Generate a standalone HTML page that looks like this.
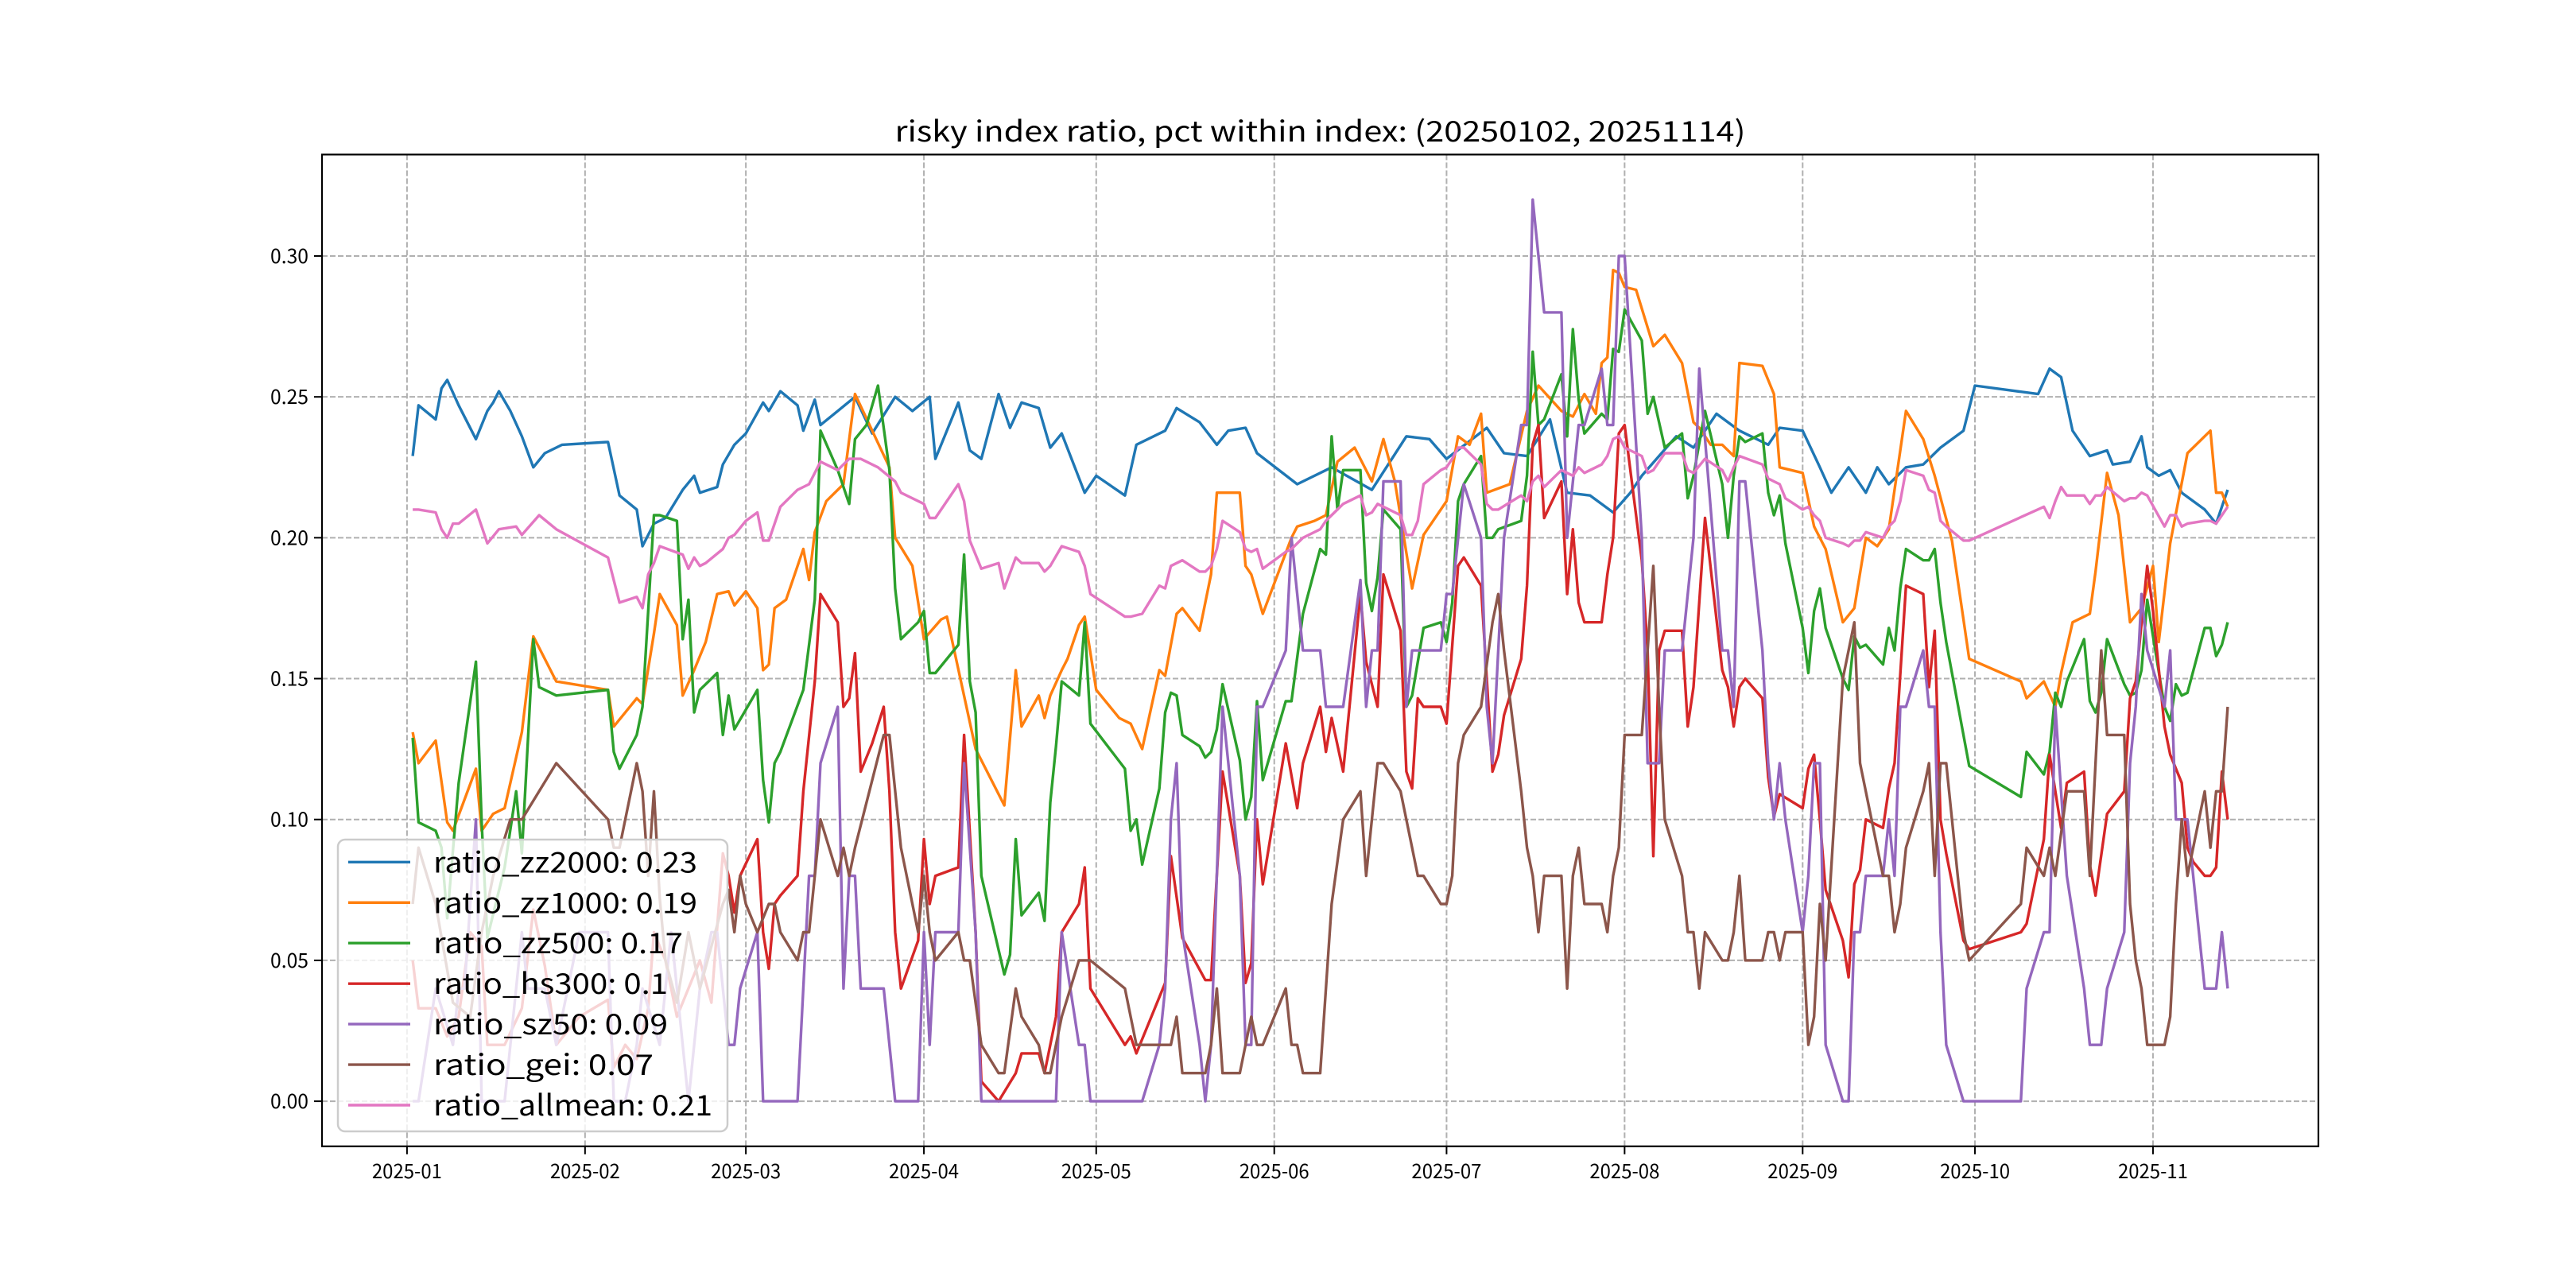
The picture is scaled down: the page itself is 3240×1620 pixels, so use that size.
<!DOCTYPE html>
<html><head><meta charset="utf-8"><style>html,body{margin:0;padding:0;background:#fff}svg{display:block}</style></head>
<body>
<svg id="chart" xmlns="http://www.w3.org/2000/svg" width="3240" height="1620" viewBox="0 0 3240 1620"></svg>
<script>
const monthLabels=["2025-01","2025-02","2025-03","2025-04","2025-05","2025-06","2025-07","2025-08","2025-09","2025-10","2025-11"];
const monthDays=[0,31,59,90,120,151,181,212,243,273,304];
const yTicks=[0,0.05,0.10,0.15,0.20,0.25,0.30];
const yTickLabels=["0.00","0.05","0.10","0.15","0.20","0.25","0.30"];
const seriesNames=["ratio_zz2000: 0.23","ratio_zz1000: 0.19","ratio_zz500: 0.17","ratio_hs300: 0.1","ratio_sz50: 0.09","ratio_gei: 0.07","ratio_allmean: 0.21"];
const zz2000=[[1,.229],[2,.247],[5,.242],[6,.253],[7,.256],[9,.247],[12,.235],[14,.245],[15,.248],[16,.252],[18,.245],[20,.236],[22,.225],[24,.23],[27,.233],[35,.234],[37,.215],[40,.21],[41,.197],[43,.205],[45,.207],[48,.217],[50,.222],[51,.216],[54,.218],[55,.226],[57,.233],[59,.237],[62,.248],[63,.245],[65,.252],[68,.247],[69,.238],[71,.249],[72,.24],[75,.245],[78,.25],[81,.237],[85,.25],[88,.245],[91,.25],[92,.228],[96,.248],[98,.231],[100,.228],[103,.251],[105,.239],[107,.248],[110,.246],[112,.232],[114,.237],[118,.216],[120,.222],[125,.215],[127,.233],[132,.238],[134,.246],[138,.241],[141,.233],[143,.238],[146,.239],[148,.23],[155,.219],[161,.225],[168,.217],[174,.236],[178,.235],[181,.228],[188,.239],[191,.23],[195,.229],[199,.242],[202,.216],[206,.215],[210,.209],[213,.216],[215,.222],[221,.236],[224,.232],[228,.244],[232,.238],[237,.233],[239,.239],[243,.238],[246,.225],[248,.216],[251,.225],[254,.216],[256,.225],[258,.219],[261,.225],[264,.226],[267,.232],[271,.238],[273,.254],[284,.251],[286,.26],[288,.257],[290,.238],[293,.229],[296,.231],[297,.226],[300,.227],[302,.236],[303,.225],[305,.222],[307,.224],[309,.216],[313,.21],[315,.205],[316,.211],[317,.217]];
const zz1000=[[1,.131],[2,.12],[5,.128],[7,.099],[8,.096],[12,.118],[13,.096],[15,.102],[17,.104],[20,.131],[22,.165],[26,.149],[35,.146],[36,.133],[40,.143],[41,.141],[43,.166],[44,.18],[47,.169],[48,.144],[50,.153],[52,.163],[54,.18],[56,.181],[57,.176],[59,.181],[61,.175],[62,.153],[63,.155],[64,.175],[66,.178],[69,.196],[70,.185],[71,.202],[73,.213],[76,.219],[78,.251],[84,.225],[85,.2],[88,.19],[90,.164],[93,.171],[94,.172],[99,.125],[104,.105],[106,.153],[107,.133],[110,.144],[111,.136],[112,.144],[114,.153],[115,.157],[117,.169],[118,.172],[120,.146],[124,.136],[126,.134],[128,.125],[131,.153],[132,.151],[134,.173],[135,.175],[138,.167],[140,.187],[141,.216],[145,.216],[146,.19],[147,.187],[149,.173],[154,.2],[155,.204],[158,.206],[160,.208],[162,.227],[165,.232],[168,.22],[170,.235],[172,.22],[175,.182],[177,.201],[181,.213],[183,.236],[185,.233],[187,.244],[188,.216],[192,.219],[195,.245],[197,.254],[201,.245],[203,.243],[205,.251],[207,.244],[208,.262],[209,.264],[210,.295],[211,.294],[212,.289],[214,.288],[217,.268],[219,.272],[222,.262],[224,.241],[225,.239],[227,.233],[229,.233],[231,.229],[232,.262],[236,.261],[238,.251],[239,.225],[241,.224],[243,.223],[245,.204],[247,.196],[250,.17],[252,.175],[254,.2],[256,.197],[258,.203],[261,.245],[264,.235],[266,.222],[269,.199],[272,.157],[281,.149],[282,.143],[285,.149],[287,.14],[288,.152],[290,.17],[293,.173],[294,.188],[296,.223],[298,.208],[300,.17],[302,.175],[304,.19],[305,.163],[307,.198],[310,.23],[314,.238],[315,.216],[316,.216],[317,.211]];
const zz500=[[1,.129],[2,.099],[5,.096],[6,.09],[7,.065],[9,.113],[12,.156],[13,.099],[14,.058],[17,.083],[19,.11],[20,.088],[22,.164],[23,.147],[26,.144],[35,.146],[36,.124],[37,.118],[40,.13],[41,.14],[43,.208],[44,.208],[47,.206],[48,.164],[49,.178],[50,.138],[51,.146],[54,.152],[55,.13],[56,.144],[57,.132],[61,.146],[62,.114],[63,.099],[64,.12],[65,.124],[69,.146],[71,.178],[72,.238],[75,.224],[77,.212],[78,.235],[80,.24],[82,.254],[84,.224],[85,.182],[86,.164],[89,.17],[90,.174],[91,.152],[92,.152],[96,.162],[97,.194],[98,.149],[99,.138],[100,.08],[104,.045],[105,.052],[106,.093],[107,.066],[110,.074],[111,.064],[112,.106],[113,.126],[114,.149],[117,.144],[118,.17],[119,.134],[125,.118],[126,.096],[127,.1],[128,.084],[131,.111],[132,.138],[133,.145],[134,.144],[135,.13],[138,.126],[139,.122],[140,.124],[141,.132],[142,.148],[145,.121],[146,.1],[147,.108],[148,.142],[149,.114],[153,.142],[154,.142],[156,.173],[159,.196],[160,.194],[161,.236],[162,.21],[163,.224],[166,.224],[167,.184],[168,.174],[169,.186],[170,.21],[173,.203],[174,.14],[175,.144],[177,.168],[180,.17],[181,.163],[182,.177],[183,.213],[184,.219],[187,.229],[188,.2],[189,.2],[190,.203],[194,.206],[195,.222],[196,.266],[197,.24],[198,.242],[201,.258],[202,.236],[203,.274],[204,.249],[205,.237],[208,.244],[209,.242],[210,.267],[211,.266],[212,.281],[215,.27],[216,.244],[217,.25],[219,.232],[222,.237],[223,.214],[224,.222],[226,.245],[229,.219],[230,.2],[231,.222],[232,.236],[233,.234],[236,.237],[237,.216],[238,.208],[239,.215],[240,.198],[243,.168],[244,.152],[245,.174],[246,.182],[247,.168],[250,.15],[251,.146],[252,.165],[253,.161],[254,.162],[257,.155],[258,.168],[259,.16],[260,.182],[261,.196],[264,.192],[265,.192],[266,.196],[267,.177],[268,.163],[272,.119],[281,.108],[282,.124],[285,.116],[286,.124],[287,.145],[288,.14],[289,.149],[292,.164],[293,.142],[294,.138],[295,.145],[296,.164],[299,.148],[300,.144],[301,.145],[302,.153],[303,.178],[304,.165],[306,.14],[307,.135],[308,.148],[309,.144],[310,.145],[313,.168],[314,.168],[315,.158],[316,.162],[317,.17]];
const hs300=[[1,.05],[2,.033],[5,.033],[7,.023],[9,.03],[11,.06],[13,.055],[14,.02],[17,.02],[20,.033],[22,.068],[24,.048],[26,.02],[30,.03],[35,.036],[36,.012],[38,.02],[40,.015],[42,.033],[43,.06],[45,.05],[47,.03],[49,.04],[51,.05],[53,.035],[55,.088],[56,.08],[57,.067],[58,.08],[61,.093],[62,.06],[63,.047],[64,.07],[65,.073],[68,.08],[69,.11],[71,.149],[72,.18],[75,.17],[76,.14],[77,.143],[78,.159],[79,.117],[81,.127],[83,.14],[84,.11],[85,.06],[86,.04],[89,.057],[90,.093],[91,.07],[92,.08],[96,.083],[97,.13],[99,.06],[100,.007],[103,0],[106,.01],[107,.017],[110,.017],[111,.01],[113,.03],[114,.06],[117,.07],[118,.083],[119,.04],[125,.02],[126,.023],[127,.017],[132,.042],[133,.087],[135,.058],[139,.043],[140,.043],[142,.117],[145,.08],[146,.042],[147,.049],[148,.1],[149,.077],[153,.127],[155,.104],[156,.12],[159,.14],[160,.124],[161,.136],[163,.117],[166,.18],[167,.156],[169,.14],[170,.187],[173,.167],[174,.117],[175,.111],[176,.143],[177,.14],[180,.14],[181,.134],[183,.19],[184,.193],[187,.183],[189,.117],[190,.123],[191,.137],[194,.157],[195,.183],[196,.233],[197,.24],[198,.207],[201,.22],[202,.18],[203,.203],[204,.177],[205,.17],[208,.17],[209,.187],[210,.2],[211,.237],[212,.24],[215,.192],[216,.16],[217,.087],[218,.16],[219,.167],[222,.167],[223,.133],[224,.147],[226,.207],[229,.153],[230,.147],[231,.133],[232,.147],[233,.15],[236,.143],[237,.115],[238,.101],[239,.109],[243,.104],[244,.118],[245,.123],[246,.1],[247,.075],[250,.057],[251,.044],[252,.077],[253,.082],[254,.1],[257,.097],[258,.111],[259,.12],[261,.183],[264,.18],[265,.147],[266,.167],[267,.1],[268,.088],[271,.057],[272,.054],[281,.06],[282,.063],[285,.093],[286,.123],[288,.097],[289,.113],[292,.117],[293,.084],[294,.073],[296,.102],[299,.11],[300,.143],[301,.149],[303,.19],[304,.174],[306,.133],[307,.123],[309,.113],[310,.09],[311,.085],[313,.08],[314,.08],[315,.083],[316,.117],[317,.1]];
const sz50=[[1,0],[2,0],[5,.04],[8,.02],[9,.04],[10,.04],[12,.1],[13,0],[17,0],[20,.06],[21,.04],[24,.04],[26,.02],[30,.06],[35,.06],[36,0],[38,0],[40,.02],[41,.04],[44,.02],[46,.06],[49,0],[51,.04],[53,.06],[54,.06],[56,.02],[57,.02],[58,.04],[61,.06],[62,0],[68,0],[70,.08],[71,.08],[72,.12],[75,.14],[76,.04],[77,.08],[78,.08],[79,.04],[83,.04],[85,0],[89,0],[90,.06],[91,.02],[92,.06],[96,.06],[97,.12],[99,.06],[100,0],[113,0],[114,.06],[117,.02],[118,.02],[119,0],[128,0],[131,.02],[132,.04],[133,.1],[134,.12],[135,.06],[138,.02],[139,0],[140,.02],[142,.14],[145,.08],[146,.02],[147,.02],[148,.14],[149,.14],[153,.16],[154,.2],[156,.16],[159,.16],[160,.14],[163,.14],[166,.185],[167,.14],[168,.16],[169,.16],[170,.22],[173,.22],[174,.14],[175,.16],[180,.16],[181,.18],[182,.18],[184,.219],[187,.2],[188,.14],[189,.12],[191,.2],[194,.24],[195,.24],[196,.32],[198,.28],[201,.28],[202,.2],[204,.24],[205,.24],[208,.26],[209,.24],[210,.24],[211,.3],[212,.3],[215,.2],[216,.12],[218,.12],[219,.16],[222,.16],[224,.2],[225,.26],[229,.16],[230,.16],[231,.14],[232,.22],[233,.22],[236,.16],[237,.12],[238,.1],[239,.12],[240,.1],[243,.06],[244,.08],[245,.12],[246,.12],[247,.02],[250,0],[251,0],[252,.06],[253,.06],[254,.08],[257,.08],[258,.1],[259,.08],[260,.14],[261,.14],[264,.16],[265,.14],[266,.14],[267,.06],[268,.02],[271,0],[281,0],[282,.04],[285,.06],[286,.06],[287,.14],[289,.08],[292,.04],[293,.02],[295,.02],[296,.04],[299,.06],[300,.12],[301,.14],[302,.18],[303,.16],[306,.14],[307,.16],[308,.1],[310,.1],[313,.04],[315,.04],[316,.06],[317,.04]];
const gei=[[1,.07],[2,.09],[5,.07],[8,.035],[11,.03],[13,.06],[15,.08],[18,.1],[20,.1],[26,.12],[35,.1],[36,.09],[37,.09],[40,.12],[41,.11],[42,.08],[43,.11],[44,.072],[45,.05],[47,.035],[49,.06],[51,.04],[53,.055],[55,.07],[56,.075],[57,.06],[58,.08],[59,.07],[61,.06],[63,.07],[64,.07],[65,.06],[68,.05],[69,.06],[70,.06],[72,.1],[75,.08],[76,.09],[77,.08],[78,.09],[83,.13],[84,.13],[86,.09],[89,.06],[90,.08],[91,.06],[92,.05],[96,.06],[97,.05],[98,.05],[100,.02],[103,.01],[104,.01],[106,.04],[107,.03],[110,.02],[111,.01],[112,.01],[114,.03],[117,.05],[119,.05],[125,.04],[127,.02],[133,.02],[134,.03],[135,.01],[139,.01],[140,.02],[141,.04],[142,.01],[145,.01],[147,.03],[148,.02],[149,.02],[153,.04],[154,.02],[155,.02],[156,.01],[159,.01],[161,.07],[163,.1],[166,.11],[167,.08],[169,.12],[170,.12],[173,.11],[176,.08],[177,.08],[180,.07],[181,.07],[182,.08],[183,.12],[184,.13],[187,.14],[189,.17],[190,.18],[191,.16],[194,.11],[195,.09],[196,.08],[197,.06],[198,.08],[201,.08],[202,.04],[203,.08],[204,.09],[205,.07],[208,.07],[209,.06],[210,.08],[211,.09],[212,.13],[215,.13],[216,.16],[217,.19],[218,.14],[219,.1],[222,.08],[223,.06],[224,.06],[225,.04],[226,.06],[229,.05],[230,.05],[231,.06],[232,.08],[233,.05],[236,.05],[237,.06],[238,.06],[239,.05],[240,.06],[243,.06],[244,.02],[245,.03],[246,.07],[247,.05],[250,.15],[252,.17],[253,.12],[257,.08],[258,.08],[259,.06],[260,.07],[261,.09],[264,.11],[265,.12],[266,.08],[267,.12],[268,.12],[271,.06],[272,.05],[281,.07],[282,.09],[285,.08],[286,.09],[287,.08],[289,.11],[292,.11],[293,.08],[295,.16],[296,.13],[299,.13],[300,.07],[301,.05],[302,.04],[303,.02],[306,.02],[307,.03],[308,.07],[309,.1],[310,.08],[313,.11],[314,.09],[315,.11],[316,.11],[317,.14]];
const allmean=[[1,.21],[2,.21],[5,.209],[6,.203],[7,.2],[8,.205],[9,.205],[12,.21],[14,.198],[16,.203],[19,.204],[20,.201],[23,.208],[26,.203],[35,.193],[37,.177],[40,.179],[41,.175],[42,.187],[43,.191],[44,.197],[48,.194],[49,.189],[50,.193],[51,.19],[52,.191],[55,.196],[56,.2],[57,.201],[59,.206],[61,.209],[62,.199],[63,.199],[65,.211],[68,.217],[70,.219],[72,.227],[75,.224],[77,.228],[79,.228],[82,.225],[85,.22],[86,.216],[90,.212],[91,.207],[92,.207],[96,.219],[97,.213],[98,.199],[100,.189],[103,.191],[104,.182],[106,.193],[107,.191],[110,.191],[111,.188],[112,.19],[114,.197],[117,.195],[118,.19],[119,.18],[125,.172],[126,.172],[128,.173],[131,.183],[132,.182],[133,.19],[135,.192],[138,.188],[139,.188],[140,.19],[141,.196],[142,.206],[145,.202],[146,.196],[147,.195],[148,.196],[149,.189],[153,.195],[154,.196],[156,.2],[159,.203],[160,.206],[161,.208],[163,.212],[166,.215],[167,.208],[168,.209],[169,.212],[173,.208],[174,.201],[175,.201],[176,.206],[177,.219],[180,.224],[181,.225],[182,.228],[183,.232],[184,.232],[187,.226],[188,.212],[189,.21],[190,.21],[194,.215],[195,.213],[196,.22],[197,.222],[198,.218],[201,.224],[203,.222],[204,.225],[205,.223],[208,.226],[209,.229],[210,.235],[211,.236],[212,.232],[215,.229],[216,.223],[217,.224],[219,.23],[222,.23],[223,.224],[224,.223],[226,.228],[229,.224],[230,.22],[231,.225],[232,.229],[236,.226],[237,.221],[238,.22],[239,.219],[240,.214],[243,.21],[244,.211],[245,.208],[246,.206],[247,.2],[250,.198],[251,.197],[252,.199],[253,.199],[254,.202],[257,.2],[258,.204],[259,.206],[260,.213],[261,.224],[264,.222],[265,.217],[266,.216],[267,.206],[268,.204],[271,.199],[272,.199],[285,.211],[286,.207],[287,.213],[288,.218],[289,.215],[292,.215],[293,.212],[294,.215],[295,.215],[296,.218],[299,.213],[300,.214],[301,.214],[302,.216],[303,.215],[306,.204],[307,.208],[308,.208],[309,.204],[310,.205],[313,.206],[314,.206],[315,.205],[317,.211]];

const NS="http://www.w3.org/2000/svg";
const svg=document.getElementById('chart');
const L=405,R=2916,T=194.4,B=1441.8;
const XMIN=-14.8,XMAX=332.8,YMIN=-0.016,YMAX=0.336;
function xs(d){return L+(d-XMIN)/(XMAX-XMIN)*(R-L);}
function ys(v){return B-(v-YMIN)/(YMAX-YMIN)*(B-T);}
function mk(tag,attrs,parent){const e=document.createElementNS(NS,tag);for(const k in attrs)e.setAttribute(k,attrs[k]);(parent||svg).appendChild(e);return e;}
const FONT='"WenQuanYi Zen Hei","Noto Sans CJK SC","Liberation Sans",sans-serif';
const colors=["#1f77b4","#ff7f0e","#2ca02c","#d62728","#9467bd","#8c564b","#e377c2"];
const allSeries=[zz2000,zz1000,zz500,hs300,sz50,gei,allmean];
const keys=["zz2000","zz1000","zz500","hs300","sz50","gei","allmean"];

const bg=mk('rect',{x:0,y:0,width:3240,height:1620,fill:'#fff'});



const grid=mk('g',{});


monthDays.forEach((d,i)=>{
  const ln=mk('line',{x1:xs(d),x2:xs(d),y1:T,y2:B,stroke:'#b0b0b0','stroke-width':2,'stroke-dasharray':'7,3'},grid);
  
  
});
yTicks.forEach(v=>{
  const ln=mk('line',{x1:L,x2:R,y1:ys(v),y2:ys(v),stroke:'#b0b0b0','stroke-width':2,'stroke-dasharray':'7,3'},grid);
  
  
});

const lines=mk('g',{'clip-path':'url(#clip)'});


const defs=mk('defs',{});
const cp=mk('clipPath',{id:'clip'},defs);
mk('rect',{x:L,y:T,width:R-L,height:B-T},cp);
allSeries.forEach((s,i)=>{
  const dstr=s.map((p,j)=>(j?'L':'M')+xs(p[0]).toFixed(1)+','+ys(p[1]).toFixed(1)).join(' ');
  const p=mk('path',{d:dstr,fill:'none',stroke:colors[i],'stroke-width':3.4,'stroke-linejoin':'round'},lines);
  
  
});

const frame=mk('rect',{x:L,y:T,width:R-L,height:B-T,fill:'none',stroke:'#000','stroke-width':2.2});



const xax=mk('g',{});


monthDays.forEach((d,i)=>{
  mk('line',{x1:xs(d),x2:xs(d),y1:B,y2:B+10,stroke:'#000','stroke-width':2},xax);
  const t=mk('text',{x:xs(d),y:B+40,'text-anchor':'middle','font-family':FONT,'font-size':25,fill:'#000',textLength:88,lengthAdjust:'spacingAndGlyphs'},xax);
  t.textContent=monthLabels[i];
  
  
});
const yax=mk('g',{});


yTicks.forEach((v,i)=>{
  mk('line',{x1:L-10,x2:L,y1:ys(v),y2:ys(v),stroke:'#000','stroke-width':2},yax);
  const t=mk('text',{x:L-17,y:ys(v)+9,'text-anchor':'end','font-family':FONT,'font-size':25,fill:'#000',textLength:48,lengthAdjust:'spacingAndGlyphs'},yax);
  t.textContent=yTickLabels[i];
  
  
});

const title=mk('text',{x:(L+R)/2,y:178,'text-anchor':'middle','font-family':FONT,'font-size':36,fill:'#000',textLength:1070,lengthAdjust:'spacingAndGlyphs'});
title.textContent='risky index ratio, pct within index: (20250102, 20251114)';



const leg=mk('g',{});


mk('rect',{x:425,y:1056,width:490,height:367,rx:9,fill:'#fff','fill-opacity':0.8,stroke:'#cccccc','stroke-width':2.5},leg);
seriesNames.forEach((n,i)=>{
  const cy=1084.3+i*50.95;
  const g=mk('g',{},leg);
  
  
  mk('line',{x1:438,x2:516,y1:cy,y2:cy,stroke:colors[i],'stroke-width':3.4},g);
  const t=mk('text',{x:545,y:cy+13,'font-family':FONT,'font-size':36,fill:'#000',textLength:(n.length*18.45).toFixed(0),lengthAdjust:'spacingAndGlyphs'},g);
  t.textContent=n;
});
</script>
</body></html>
